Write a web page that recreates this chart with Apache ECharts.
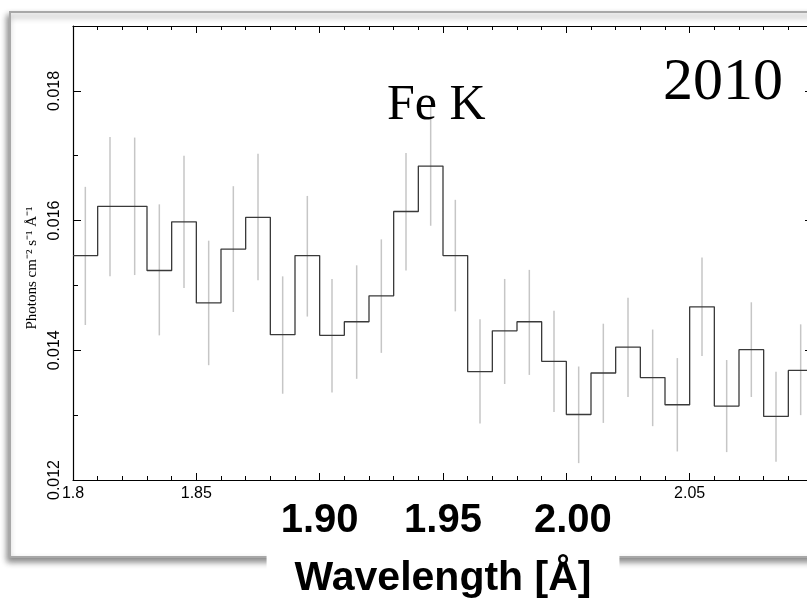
<!DOCTYPE html>
<html>
<head>
<meta charset="utf-8">
<script src="https://cdn.jsdelivr.net/npm/echarts@6/dist/echarts.min.js"></script>
<style>html,body{margin:0;padding:0;background:#fff;}#c{width:807px;height:603px;}</style>
</head>
<body>
<div id="c"></div>
<script>
// Bin left edges (Å), last right edge
const binLeft = [1.80,1.81,1.82,1.83,1.84,1.85,1.86,1.87,1.88,1.89,1.90,1.91,1.92,1.93,1.94,1.95,1.96,1.97,1.98,1.99,2.00,2.01,2.02,2.03,2.04,2.05,2.06,2.07,2.08,2.09];
const lastEdge = 2.10;
const binCenter = [1.805,1.815,1.825,1.835,1.845,1.855,1.865,1.875,1.885,1.895,1.905,1.915,1.925,1.935,1.945,1.955,1.965,1.975,1.985,1.995,2.005,2.015,2.025,2.035,2.045,2.055,2.065,2.075,2.085,2.095];
const flux = [0.01546,0.01622,0.01622,0.01523,0.01598,0.01473,0.01556,0.01605,0.01424,0.01546,0.01423,0.01444,0.01484,0.01614,0.01684,0.01546,0.01367,0.01430,0.01444,0.01383,0.01301,0.01365,0.01405,0.01358,0.01316,0.01467,0.01314,0.01401,0.01298,0.01369];
const errLo = [0.01439,0.01514,0.01516,0.01423,0.01496,0.01377,0.01459,0.01508,0.01333,0.01452,0.01335,0.01356,0.01396,0.01523,0.01592,0.01460,0.01287,0.01348,0.01362,0.01305,0.01226,0.01288,0.01328,0.01283,0.01244,0.01391,0.01243,0.01328,0.01228,0.01300];
const errHi = [0.01652,0.01729,0.01728,0.01625,0.01700,0.01569,0.01653,0.01703,0.01514,0.01638,0.01510,0.01531,0.01571,0.01704,0.01775,0.01632,0.01448,0.01510,0.01524,0.01461,0.01375,0.01441,0.01481,0.01432,0.01388,0.01543,0.01385,0.01474,0.01367,0.01440];
const smallTickLabels = ['1.8','1.85','2.05'];
const bigTickLabels = ['1.90','1.95','2.00'];
const yTickLabels = ['0.012','0.014','0.016','0.018'];
const xTitle = 'Wavelength [Å]';
const yTitle = 'Photons cm⁻² s⁻¹ Å⁻¹';
const lineLabel = 'Fe K';
const yearLabel = '2010';

const stepData = binLeft.map((x, i) => [x, flux[i]]).concat([[lastEdge, flux[flux.length - 1]]]);
const errData = binCenter.map((x, i) => [x, errLo[i], errHi[i]]);

function fmt2(v){ return Math.round(v*1000)/1000; }
const smallSet = smallTickLabels.map(Number);
const bigSet = bigTickLabels.map(Number);

const chart = echarts.init(document.getElementById('c'), null, {renderer:'canvas'});
const axisCommonX = {
  type:'value', min:1.8, max:2.1, interval:0.05, splitLine:{show:false}
};
const axisCommonY = {
  type:'value', min:0.012, max:0.019, splitLine:{show:false}
};
chart.setOption({
  backgroundColor:'#fff',
  animation:false,
  grid:{left:73, right:-6, top:26, bottom:123, containLabel:false, outerBoundsMode:'none'},
  graphic:[
    {type:'rect', z:-1, shape:{x:10, y:12, width:1000, height:545},
     style:{fill:'#fff', stroke:'#a8a8a8', lineWidth:2, shadowBlur:6, shadowOffsetX:-2, shadowOffsetY:4, shadowColor:'rgba(0,0,0,0.45)'}},
    {type:'text', z:10, style:{x:387, y:106, text:lineLabel, font:'50px "Liberation Serif", "Times New Roman", serif', fill:'#000', verticalAlign:'middle'}},
    {type:'text', z:10, style:{x:663, y:83, text:yearLabel, font:'60px "Liberation Serif", "Times New Roman", serif', fill:'#000', verticalAlign:'middle'}}
  ],
  xAxis:[
    Object.assign({}, axisCommonX, {
      position:'bottom',
      axisLine:{show:true, lineStyle:{color:'#000', width:1.2}},
      axisTick:{show:true, inside:true, length:7, lineStyle:{color:'#000', width:1}},
      minorTick:{show:true, splitNumber:5, length:4, lineStyle:{color:'#000', width:1}},
      axisLabel:{show:true, margin:6, fontSize:16, color:'#000', fontFamily:'"Liberation Sans", Arial, sans-serif',
        formatter:(v)=>{ const r=fmt2(v); const k=smallSet.indexOf(r); return k>=0 ? smallTickLabels[k] : ''; }}
    }),
    Object.assign({}, axisCommonX, {
      position:'top',
      axisLine:{show:true, lineStyle:{color:'#000', width:1.2}},
      axisTick:{show:true, inside:true, length:7, lineStyle:{color:'#000', width:1}},
      minorTick:{show:true, splitNumber:5, length:4, lineStyle:{color:'#000', width:1}},
      axisLabel:{show:false}
    }),
    Object.assign({}, axisCommonX, {
      position:'bottom',
      axisLine:{show:false}, axisTick:{show:false},
      axisLabel:{show:true, margin:21, fontSize:40, fontWeight:'bold', color:'#000', fontFamily:'"Liberation Sans", Arial, sans-serif',
        formatter:(v)=>{ const r=fmt2(v); const k=bigSet.indexOf(r); if(k<0) return ''; return k===2 ? '{s|'+bigTickLabels[k]+'}' : bigTickLabels[k]; },
        rich:{s:{fontSize:40, fontWeight:'bold', color:'#000', fontFamily:'"Liberation Sans", Arial, sans-serif', padding:[0,0,0,13]}}},
      name:xTitle, nameLocation:'middle', nameGap:70, nameMoveOverlap:false,
      nameTextStyle:{fontSize:41, fontWeight:'bold', color:'#000', fontFamily:'"Liberation Sans", Arial, sans-serif',
        backgroundColor:'#fff', padding:[8,28,20,28]}
    })
  ],
  yAxis:[
    Object.assign({}, axisCommonY, {
      position:'left', interval:0.002,
      axisLine:{show:true, lineStyle:{color:'#000', width:1.2}},
      axisTick:{show:true, inside:true, length:8, lineStyle:{color:'#000', width:1}},
      axisLabel:{show:true, rotate:90, margin:10, fontSize:16, color:'#000', fontFamily:'"Liberation Sans", Arial, sans-serif',
        formatter:(v)=>{ const s=v.toFixed(3); return yTickLabels.indexOf(s)>=0 ? s : ''; }},
      name:yTitle, nameLocation:'middle', nameRotate:90, nameGap:33, nameMoveOverlap:false,
      nameTextStyle:{fontSize:15, color:'#000', fontFamily:'"Liberation Serif", "Times New Roman", serif', padding:[0,30,0,0]}
    }),
    Object.assign({}, axisCommonY, {
      position:'left', interval:0.001,
      axisLine:{show:false},
      axisTick:{show:true, inside:true, length:5, lineStyle:{color:'#000', width:1}},
      axisLabel:{show:false}
    }),
    Object.assign({}, axisCommonY, {
      position:'right', interval:0.002,
      axisLine:{show:true, lineStyle:{color:'#000', width:1.2}},
      axisTick:{show:true, inside:true, length:8, lineStyle:{color:'#000', width:1}},
      axisLabel:{show:false}
    }),
    Object.assign({}, axisCommonY, {
      position:'right', interval:0.001,
      axisLine:{show:false},
      axisTick:{show:true, inside:true, length:5, lineStyle:{color:'#000', width:1}},
      axisLabel:{show:false}
    })
  ],
  series:[
    {
      type:'custom', xAxisIndex:0, yAxisIndex:0, z:2,
      data:errData,
      renderItem:(params, api)=>{
        const p1 = api.coord([api.value(0), api.value(1)]);
        const p2 = api.coord([api.value(0), api.value(2)]);
        return {type:'line', shape:{x1:p1[0], y1:p1[1], x2:p2[0], y2:p2[1]},
          style:{stroke:'#c6c6c6', lineWidth:1.5}};
      }
    },
    {
      type:'line', xAxisIndex:0, yAxisIndex:0, z:3,
      data:stepData, step:'end', showSymbol:false, symbol:'none',
      lineStyle:{color:'#3a3a3a', width:1.3}
    }
  ]
});
</script>
</body>
</html>
